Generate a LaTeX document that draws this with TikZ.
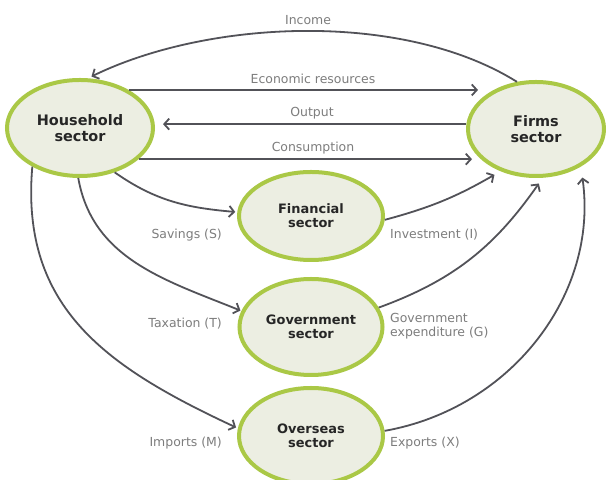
\documentclass[tikz,border=0pt]{standalone}
\usepackage{fontspec}
\setmainfont{DejaVu Sans}
\usetikzlibrary{arrows.meta,shapes.geometric}
\definecolor{ringgreen}{RGB}{170,200,70}
\definecolor{sectorfill}{RGB}{236,238,226}
\definecolor{flowgray}{RGB}{82,82,88}
\definecolor{labelgray}{RGB}{125,125,125}

\begin{document}
\begin{tikzpicture}[x=1bp, y=1bp,
    sector/.style={ellipse, draw=ringgreen, fill=sectorfill, line width=4bp,
        inner sep=0pt, align=center, text=black!85,
        font=\bfseries\fontsize{13}{14}\selectfont},
    flow/.style={draw=flowgray, line width=1.8bp,
        -{Straight Barb[length=5bp,width=11bp]}},
    flowlabel/.style={text=labelgray, inner sep=0pt, align=left,
        font=\fontsize{12.5}{13.5}\selectfont}]
    \useasboundingbox (0,0) rectangle (608,480);
    \fill[white] (0,0) rectangle (608,480);
    % Sectors
    \node[sector, minimum width=146bp, minimum height=96bp,
        font=\bfseries\fontsize{14.5}{15.5}\selectfont] (household) at (80,352) {Household\\sector};
    \node[sector, minimum width=136bp, minimum height=94bp,
        font=\bfseries\fontsize{14.5}{15.5}\selectfont] (firms) at (536,351) {Firms\\sector};
    \node[sector, minimum width=144bp, minimum height=88bp] (financial) at (311,264) {Financial\\sector};
    \node[sector, minimum width=143bp, minimum height=96bp] (government) at (311,153) {Government\\sector};
    \node[sector, minimum width=144bp, minimum height=96bp] (overseas) at (311,44) {Overseas\\sector};
    % Flows between household and firms
    \draw[flow, shorten >=4bp] (firms.112) to[out=148, in=26, looseness=0.8] (household.81);
    \draw[flow, shorten >=-12bp] (household.38) -- (household.38 -| firms.west);
    \draw[flow, shorten >=8bp] (firms.176) -- (firms.176 -| household.east);
    \draw[flow, shorten >=-6bp] (household.-28) -- (household.-28 -| firms.west);
    % Leakages
    \draw[flow, shorten >=2bp] (household.-52) to[out=-35, in=175] (financial.177);
    \draw[flow, shorten >=1bp] (household.-92) to[out=-80, in=158] (government.167);
    \draw[flow, shorten >=2bp] (household.-141) to[out=-95, in=155, looseness=1.1] (overseas.174);
    % Injections
    \draw[flow, shorten >=7bp] (financial.-3) to[out=15, in=-150] (firms.-130);
    \draw[flow, shorten >=7bp] (government.16) to[out=20, in=-125] (firms.-82);
    \draw[flow, shorten >=11bp] (overseas.4) to[out=10, in=-82] (firms.-40);
    % Labels
    \node[flowlabel] (incomelabel) at (308,460) {Income};
    \node[flowlabel] (resourceslabel) at (313,401) {Economic resources};
    \node[flowlabel] (outputlabel) at (312,367) {Output};
    \node[flowlabel] (consumptionlabel) at (313,332) {Consumption};
    \node[flowlabel, anchor=east] (savingslabel) at (222,245) {Savings (S)};
    \node[flowlabel, anchor=east] (taxationlabel) at (222,156) {Taxation (T)};
    \node[flowlabel, anchor=east] (importslabel) at (222,37) {Imports (M)};
    \node[flowlabel, anchor=west] (investmentlabel) at (390,245) {Investment (I)};
    \node[flowlabel, anchor=west] (expenditurelabel) at (390,154) {Government\\expenditure (G)};
    \node[flowlabel, anchor=west] (exportslabel) at (390,37) {Exports (X)};
\end{tikzpicture}
\end{document}
